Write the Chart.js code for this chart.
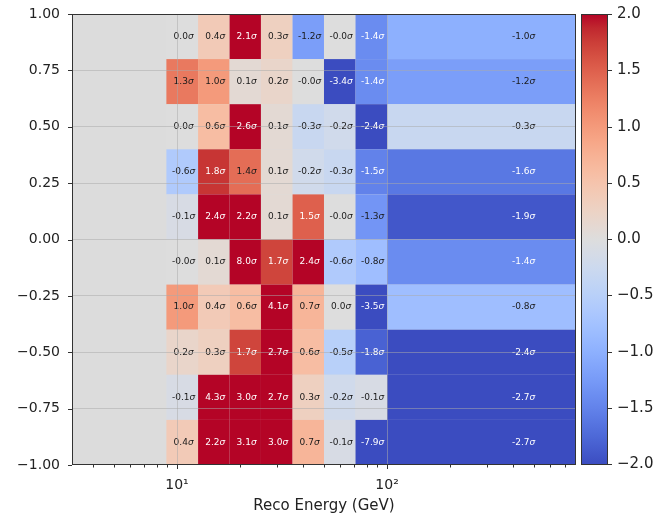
<!DOCTYPE html>
<html>
<head>
<meta charset="utf-8">
<script src="https://cdn.jsdelivr.net/npm/chart.js@4"></script>
<style>
  html, body { margin: 0; padding: 0; background: #fff; }
  #wrap { width: 656px; height: 515px; }
</style>
</head>
<body>
<div id="wrap"><canvas id="chart"></canvas></div>
<script>
// reco energy bin edges (GeV)
const energyEdges = [8.9, 12.6, 17.8, 25.1, 35.5, 50.1, 70.8, 100, 794];
// cos(zenith) bin edges, top to bottom
const zenithEdges = [1.0, 0.8, 0.6, 0.4, 0.2, 0.0, -0.2, -0.4, -0.6, -0.8, -1.0];
// pull per bin in sigma: one row per zenith bin (top to bottom), one entry per energy bin
const pulls = [
  [0.0, 0.4, 2.1, 0.3, -1.2, -0.0, -1.4, -1.0],
  [1.3, 1.0, 0.1, 0.2, -0.0, -3.4, -1.4, -1.2],
  [0.0, 0.6, 2.6, 0.1, -0.3, -0.2, -2.4, -0.3],
  [-0.6, 1.8, 1.4, 0.1, -0.2, -0.3, -1.5, -1.6],
  [-0.1, 2.4, 2.2, 0.1, 1.5, -0.0, -1.3, -1.9],
  [-0.0, 0.1, 8.0, 1.7, 2.4, -0.6, -0.8, -1.4],
  [1.0, 0.4, 0.6, 4.1, 0.7, 0.0, -3.5, -0.8],
  [0.2, 0.3, 1.7, 2.7, 0.6, -0.5, -1.8, -2.4],
  [-0.1, 4.3, 3.0, 2.7, 0.3, -0.2, -0.1, -2.7],
  [0.4, 2.2, 3.1, 3.0, 0.7, -0.1, -7.9, -2.7]
];
const yTicks = [-1.0, -0.75, -0.5, -0.25, 0.0, 0.25, 0.5, 0.75, 1.0];
const xMajorTicks = [10, 100];
const xMinorTicks = [4, 5, 6, 7, 8, 9, 20, 30, 40, 50, 60, 70, 80, 90, 200, 300, 400, 500, 600, 700];
const cbTicks = [-2.0, -1.5, -1.0, -0.5, 0.0, 0.5, 1.0, 1.5, 2.0];
const cbMin = -2, cbMax = 2;
const xMin = 3.162, xMax = 794;

// coolwarm colormap samples
const coolwarm = [
  [59,76,192],[68,90,204],[77,104,215],[87,117,225],[98,130,234],[108,142,241],
  [119,154,247],[130,165,251],[141,176,254],[152,185,255],[163,194,255],[174,201,253],
  [184,208,249],[194,213,244],[204,217,238],[213,219,230],[221,221,221],[229,216,209],
  [236,211,197],[241,204,185],[245,196,173],[247,187,160],[247,177,148],[247,166,135],
  [244,154,123],[241,141,111],[236,127,99],[229,112,88],[222,96,77],[213,80,66],
  [203,62,56],[192,40,47],[180,4,38]
];
function cmap(v) {
  let t = (v - cbMin) / (cbMax - cbMin);
  t = Math.max(0, Math.min(1, t)) * (coolwarm.length - 1);
  const i = Math.min(Math.floor(t), coolwarm.length - 2);
  const f = t - i;
  const a = coolwarm[i], b = coolwarm[i + 1];
  const c = a.map((x, k) => Math.round(x + (b[k] - x) * f));
  return `rgb(${c[0]},${c[1]},${c[2]})`;
}

function fmt(v) {
  const neg = v < 0 || Object.is(v, -0);
  return (neg ? '-' : '') + Math.abs(v).toFixed(1);
}
const minus = s => s.replace('-', '\u2212');

const FONT = '"DejaVu Sans", sans-serif';
const AXIS = '#333';

// heatmap cells + labels go under the grid
const heatmap = {
  id: 'heatmap',
  beforeDraw(chart) {
    const {ctx, chartArea: a, scales: {x, y}} = chart;
    ctx.save();
    ctx.fillStyle = '#dcdcdc';
    ctx.fillRect(a.left, a.top, a.right - a.left, a.bottom - a.top);
    pulls.forEach((row, r) => {
      const y0 = y.getPixelForValue(zenithEdges[r]);
      const y1 = y.getPixelForValue(zenithEdges[r + 1]);
      row.forEach((v, c) => {
        const x0 = x.getPixelForValue(energyEdges[c]);
        const x1 = x.getPixelForValue(energyEdges[c + 1]);
        ctx.fillStyle = cmap(v);
        ctx.fillRect(x0, y0, x1 - x0, y1 - y0);
      });
    });
    ctx.textBaseline = 'middle';
    ctx.textAlign = 'left';
    pulls.forEach((row, r) => {
      const ym = y.getPixelForValue((zenithEdges[r] + zenithEdges[r + 1]) / 2);
      row.forEach((v, c) => {
        const xm = x.getPixelForValue((energyEdges[c] + energyEdges[c + 1]) / 2);
        const num = fmt(v);
        ctx.font = '9px ' + FONT;
        const wn = ctx.measureText(num).width;
        ctx.font = 'italic 9px ' + FONT;
        const ws = ctx.measureText('\u03c3').width;
        const x0 = xm - (wn + ws) / 2;
        ctx.fillStyle = (v >= 1.5 || v <= -1.4) ? '#ffffff' : '#1a1a1a';
        ctx.font = '9px ' + FONT;
        ctx.fillText(num, x0, ym);
        ctx.font = 'italic 9px ' + FONT;
        ctx.fillText('\u03c3', x0 + wn, ym);
      });
    });
    ctx.restore();
  },
  afterDraw(chart) {
    const {ctx, chartArea: a, scales: {x, y}} = chart;
    ctx.save();
    ctx.strokeStyle = AXIS;
    ctx.lineWidth = 1;
    ctx.strokeRect(a.left + 0.5, a.top + 0.5, a.right - a.left - 1, a.bottom - a.top - 1);
    // tick marks
    ctx.beginPath();
    yTicks.forEach(t => {
      const py = Math.round(y.getPixelForValue(t)) + 0.5;
      ctx.moveTo(a.left - 4, py); ctx.lineTo(a.left, py);
    });
    xMajorTicks.forEach(t => {
      const px = Math.round(x.getPixelForValue(t)) + 0.5;
      ctx.moveTo(px, a.bottom); ctx.lineTo(px, a.bottom + 4);
    });
    xMinorTicks.forEach(t => {
      const px = Math.round(x.getPixelForValue(t)) + 0.5;
      ctx.moveTo(px, a.bottom); ctx.lineTo(px, a.bottom + 2.5);
    });
    ctx.stroke();

    // colorbar
    const cbL = a.right + 5, cbR = a.right + 32;
    const h = a.bottom - a.top;
    const grad = ctx.createLinearGradient(0, a.top, 0, a.bottom);
    coolwarm.forEach((c, i) => {
      grad.addColorStop(1 - i / (coolwarm.length - 1), `rgb(${c[0]},${c[1]},${c[2]})`);
    });
    ctx.fillStyle = grad;
    ctx.fillRect(cbL, a.top, cbR - cbL, h);
    ctx.strokeStyle = AXIS;
    ctx.strokeRect(cbL + 0.5, a.top + 0.5, cbR - cbL - 1, h - 1);
    ctx.font = '15px ' + FONT;
    ctx.fillStyle = '#222';
    ctx.textAlign = 'left';
    ctx.textBaseline = 'middle';
    cbTicks.forEach(t => {
      const py = Math.round(a.top + (cbMax - t) / (cbMax - cbMin) * (h - 1)) + 0.5;
      ctx.beginPath();
      ctx.moveTo(cbR, py); ctx.lineTo(cbR + 4, py);
      ctx.stroke();
      ctx.fillText(minus(t.toFixed(1)), cbR + 9, py);
    });
    ctx.restore();
  }
};

const gridColor = 'rgba(170,170,170,0.65)';

new Chart(document.getElementById('chart'), {
  type: 'scatter',
  data: { datasets: [{ data: [], pointRadius: 0 }] },
  options: {
    responsive: true,
    maintainAspectRatio: false,
    animation: false,
    events: [],
    layout: { padding: { top: 14, right: 80, left: 0, bottom: 0 } },
    plugins: { legend: { display: false }, tooltip: { enabled: false } },
    scales: {
      x: {
        type: 'logarithmic',
        min: xMin,
        max: xMax,
        afterBuildTicks: s => { s.ticks = xMinorTicks.concat(xMajorTicks).sort((p, q) => p - q).map(v => ({value: v})); },
        afterFit: s => { s.height = 50; s.paddingLeft = 0; s.paddingRight = 0; },
        border: { display: false },
        grid: {
          drawTicks: false,
          lineWidth: 0.8,
          color: c => (c.tick && xMajorTicks.includes(c.tick.value)) ? gridColor : 'transparent'
        },
        ticks: {
          autoSkip: false,
          maxRotation: 0,
          padding: 12,
          color: '#222',
          font: { family: FONT, size: 14 },
          callback: v => v === 10 ? '10\u00b9' : v === 100 ? '10\u00b2' : ''
        },
        title: {
          display: true,
          text: 'Reco Energy (GeV)',
          color: '#222',
          font: { family: FONT, size: 15 },
          padding: { top: 0, bottom: 0 }
        }
      },
      y: {
        type: 'linear',
        min: -1,
        max: 1,
        afterBuildTicks: s => { s.ticks = yTicks.map(v => ({value: v})); },
        afterFit: s => { s.width = 72; s.paddingTop = 0; s.paddingBottom = 0; },
        border: { display: false },
        grid: {
          drawTicks: false,
          lineWidth: 0.8,
          color: c => (c.tick && Math.abs(c.tick.value) < 1) ? gridColor : 'transparent'
        },
        ticks: {
          padding: 12,
          color: '#222',
          font: { family: FONT, size: 14 },
          callback: v => minus(Number(v).toFixed(2))
        }
      }
    }
  },
  plugins: [heatmap]
});
</script>
</body>
</html>
